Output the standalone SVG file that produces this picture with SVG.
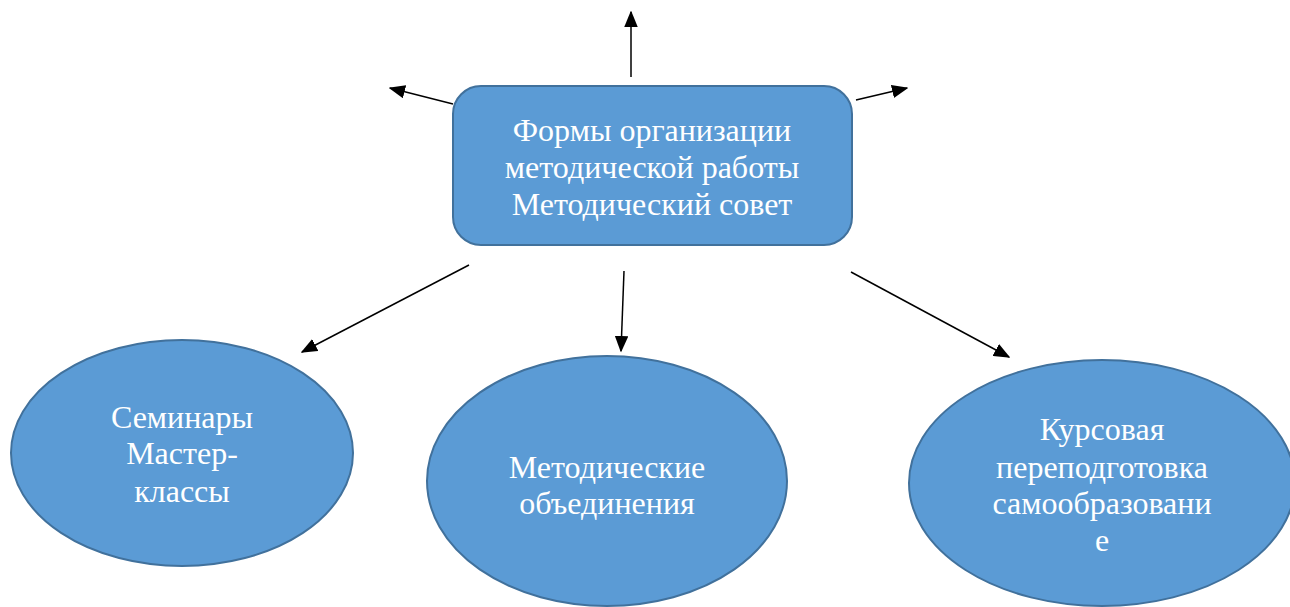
<svg xmlns="http://www.w3.org/2000/svg" width="1290" height="607" viewBox="0 0 1290 607">
<style>
.shape{fill:#5B9BD5;stroke:#41719C;stroke-width:2}
.lbl{font-family:"Liberation Serif","Times New Roman",serif;font-size:32px;fill:#FFFFFF;text-anchor:middle}
.con{stroke:#000;stroke-width:1.5;fill:none;marker-end:url(#ah)}
</style>
<defs>
<marker id="ah" markerWidth="11" markerHeight="9" refX="10" refY="4.5" orient="auto" markerUnits="strokeWidth">
<path d="M0,0 L11,4.5 L0,9 Z" fill="#000"/>
</marker>
</defs>
<rect width="1290" height="607" fill="#FFFFFF"/>
<g id="connectors">
<line class="con" x1="631" y1="77" x2="631" y2="12"/>
<line class="con" x1="453" y1="104" x2="390" y2="88"/>
<line class="con" x1="856" y1="100" x2="907" y2="88"/>
<line class="con" x1="469" y1="265" x2="302" y2="352"/>
<line class="con" x1="624" y1="271" x2="621" y2="351"/>
<line class="con" x1="851" y1="272" x2="1009" y2="357"/>
</g>
<g id="center">
<rect class="shape" x="453" y="86" width="399" height="159" rx="28" ry="28"/>
<text class="lbl" x="652" y="141">Формы организации</text>
<text class="lbl" x="652" y="178">методической работы</text>
<text class="lbl" x="652" y="215">Методический совет</text>
</g>
<g id="seminars">
<ellipse class="shape" cx="182" cy="453" rx="171" ry="113"/>
<text class="lbl" x="182" y="428">Семинары</text>
<text class="lbl" x="182" y="464">Мастер-</text>
<text class="lbl" x="182" y="502">классы</text>
</g>
<g id="associations">
<ellipse class="shape" cx="607" cy="481" rx="180" ry="125"/>
<text class="lbl" x="607" y="478">Методические</text>
<text class="lbl" x="607" y="514">объединения</text>
</g>
<g id="courses">
<ellipse class="shape" cx="1102" cy="483" rx="193" ry="123"/>
<text class="lbl" x="1102" y="440">Курсовая</text>
<text class="lbl" x="1102" y="478">переподготовка</text>
<text class="lbl" x="1102" y="514">самообразовани</text>
<text class="lbl" x="1102" y="551">е</text>
</g>
</svg>
